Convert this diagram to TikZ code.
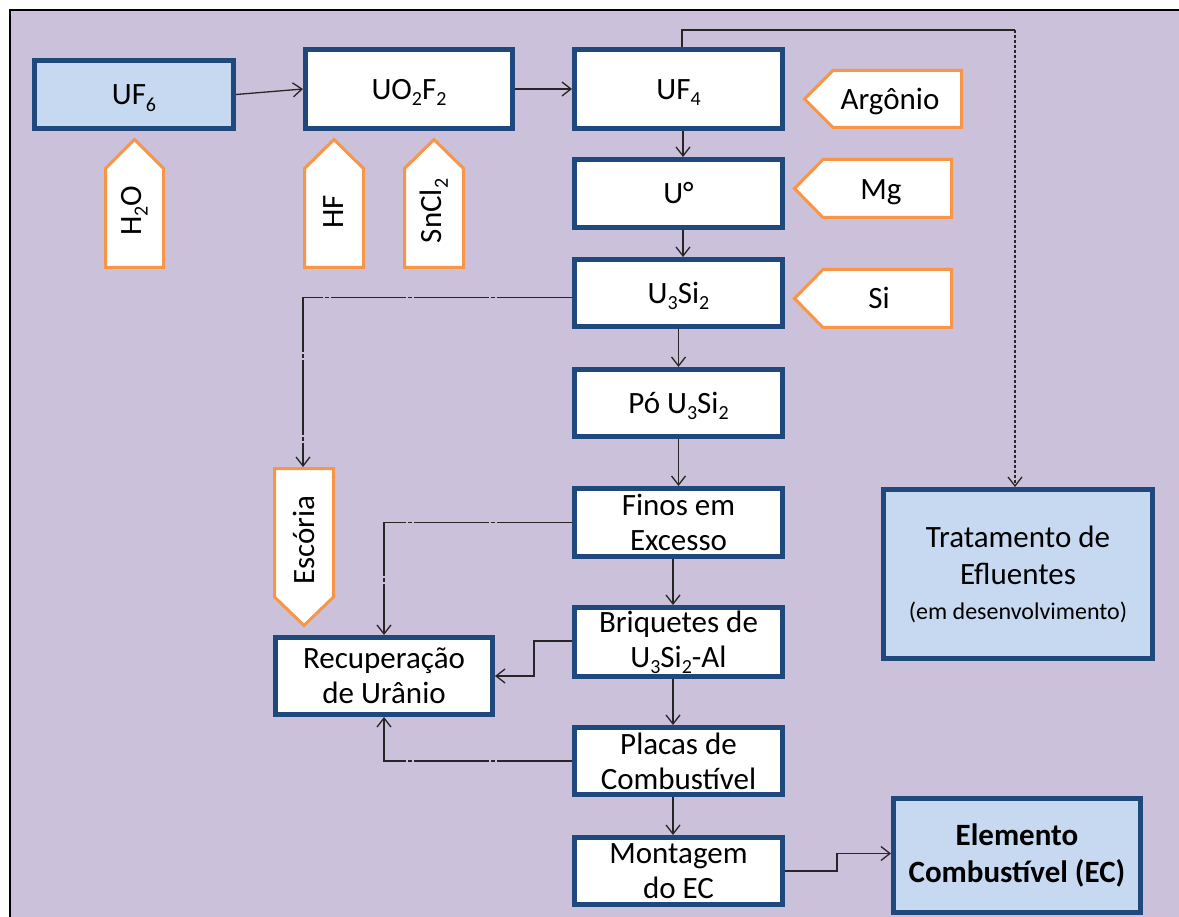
\documentclass[tikz,border=0pt]{standalone}
\usepackage{fontspec}
\setmainfont{Carlito}
\usetikzlibrary{arrows.meta,calc}
\definecolor{lav}{HTML}{CCC1DA}
\definecolor{navy}{HTML}{1F497D}
\definecolor{paleblue}{HTML}{C6D9F1}
\definecolor{feedorange}{HTML}{F79646}
\definecolor{linkgray}{HTML}{262626}
% chemical index, set small and lowered
\newcommand\ix[1]{\raisebox{-0.2em}{\fontsize{20}{20}\selectfont #1}}
\begin{document}
\begin{tikzpicture}[x=1pt,y=-1pt,
  box/.style={draw=navy, line width=5pt, fill=white, text=black,
    inner sep=0pt, font=\fontsize{31}{35}\selectfont},
  keybox/.style={box, fill=paleblue},
  multi/.style={align=center},
  oneline/.style={text height=24pt, text depth=3pt},
  feed/.style={draw=feedorange, line width=3pt, fill=white, line join=miter},
  feedtext/.style={font=\fontsize{31}{35}\selectfont, inner sep=0pt, text=black},
  link/.style={draw=linkgray, line width=1.3pt, -{Straight Barb[length=9pt,width=14pt]}},
  sidelink/.style={link, dash pattern=on 75pt off 2pt on 4pt off 2pt},
  dottedlink/.style={link, dash pattern=on 3pt off 2pt},
]
\useasboundingbox (0,0) rectangle (1179,917);
% sheet and frame
\fill[white] (0,0) rectangle (1179,917);
\fill[lav] (10,10) rectangle (1179,917);
\draw[line width=2.5pt] (10,917) -- (10,10) -- (1179,10);

% process boxes
\node[keybox, oneline, minimum width=199pt, minimum height=68pt] (uf6) at (134,94.5) {UF\ix{6}};
\node[box, oneline, minimum width=207pt, minimum height=79pt] (uo2f2) at (409,89) {UO\ix{2}F\ix{2}};
\node[box, oneline, minimum width=208pt, minimum height=79pt] (uf4) at (678.5,89) {UF\ix{4}};
\node[box, oneline, minimum width=208pt, minimum height=68pt] (u0) at (678.5,193.5) {U°};
\node[box, oneline, minimum width=208pt, minimum height=67pt] (u3si2) at (678.5,293) {U\ix{3}Si\ix{2}};
\node[box, oneline, minimum width=208pt, minimum height=67pt] (po) at (678.5,403) {Pó U\ix{3}Si\ix{2}};
\node[box, multi, minimum width=208pt, minimum height=68pt] (finos) at (678.5,522.5) {Finos em\\Excesso};
\node[box, multi, minimum width=208pt, minimum height=69pt] (briq) at (678.5,642) {Briquetes de\\U\ix{3}Si\ix{2}-Al};
\node[box, multi, minimum width=208pt, minimum height=67pt] (placas) at (678.5,761) {Placas de\\Combustível};
\node[box, multi, minimum width=208pt, minimum height=67pt] (mont) at (678.5,871) {Montagem\\do EC};
\node[box, multi, minimum width=217pt, minimum height=77pt] (recup) at (384,676) {Recuperação\\de Urânio};
\node[keybox, multi, minimum width=269pt, minimum height=169pt] (trat) at (1018,574)
  {Tratamento de\\[2pt]Efluentes\\{\fontsize{24}{28}\selectfont(em desenvolvimento)}};
\node[keybox, multi, minimum width=247pt, minimum height=114pt, font=\fontsize{31}{37}\selectfont\bfseries] (elem) at (1017,855)
  {Elemento\\Combustível (EC)};

% reagent inputs (upward)
\draw[feed] (105.5,267.5) -- (105.5,168.5) -- (134.5,139.5) -- (163.5,168.5) -- (163.5,267.5) -- cycle;
\node[feedtext, rotate=90] (h2o) at (134.5,211) {H\ix{2}O};
\draw[feed] (304.5,267.5) -- (304.5,168.5) -- (334,139.5) -- (363.5,168.5) -- (363.5,267.5) -- cycle;
\node[feedtext, rotate=90] (hf) at (334,212) {HF};
\draw[feed] (404.5,267.5) -- (404.5,168.5) -- (434,139.5) -- (463.5,168.5) -- (463.5,267.5) -- cycle;
\node[feedtext, rotate=90] (sncl2) at (434,211) {SnCl\ix{2}};

% reagent inputs (leftward)
\draw[feed] (961.5,70.5) -- (833,70.5) -- (804.5,99) -- (833,127.5) -- (961.5,127.5) -- cycle;
\node[feedtext, oneline] (argonio) at (890,99) {Argônio};
\draw[feed] (951.5,159.5) -- (823,159.5) -- (794.5,188.5) -- (823,217.5) -- (951.5,217.5) -- cycle;
\node[feedtext, oneline] (mg) at (881,189.5) {Mg};
\draw[feed] (951.5,269.5) -- (823,269.5) -- (794.5,298.5) -- (823,327.5) -- (951.5,327.5) -- cycle;
\node[feedtext, oneline] (si) at (879,298) {Si};

% slag output (downward)
\draw[feed] (274.5,468.5) -- (333.5,468.5) -- (333.5,597) -- (304,625.5) -- (274.5,597) -- cycle;
\node[feedtext, rotate=90] (escoria) at (304,540) {Escória};
\coordinate (esctop) at (303,467);

% main flow
\draw[link] (uf6.east) -- (uo2f2.west);
\draw[link] (uo2f2.east) -- (uf4.west);
\draw[link] ([xshift=4.5pt]uf4.south) -- ([xshift=4.5pt]u0.north);
\draw[link] ([xshift=4.5pt]u0.south) -- ([xshift=4.5pt]u3si2.north);
\draw[link] (u3si2.south) -- (po.north);
\draw[link] (po.south) -- (finos.north);
\draw[link] ([xshift=-5.5pt]finos.south) -- ([xshift=-5.5pt]briq.north);
\draw[link] ([xshift=-5.5pt]briq.south) -- ([xshift=-5.5pt]placas.north);
\draw[link] ([xshift=-5.5pt]placas.south) -- ([xshift=-5.5pt]mont.north);
\draw[link] (mont.east) -- ++(52,0) |- ([yshift=1.5pt]elem.west);

% effluent line
\draw[link, -] ([xshift=3.5pt]uf4.north) |- (1015,30) coordinate (efturn);
\draw[dottedlink] (efturn) -- (trat.north -| efturn);

% side streams
\draw[sidelink] ([yshift=-4.5pt]u3si2.west) -| (esctop);
\draw[sidelink] (finos.west) -| (recup.north);
\draw[link] ([yshift=1pt]briq.west) -- ++(-38,0) |- (recup.east);
\draw[sidelink] (placas.west) -| (recup.south);
\end{tikzpicture}
\end{document}
